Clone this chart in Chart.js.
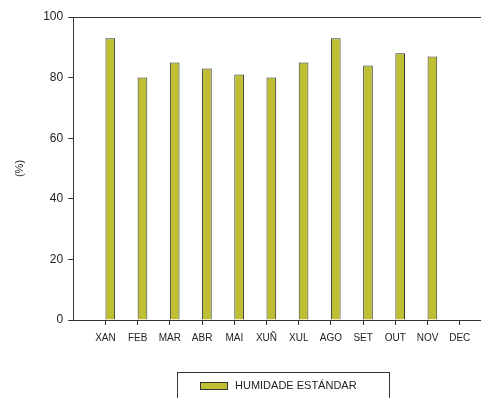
<!DOCTYPE html>
<html>
<head>
<meta charset="utf-8">
<script src="https://cdn.jsdelivr.net/npm/chart.js@4/dist/chart.umd.min.js"></script>
<style>
    html, body { margin: 0; padding: 0; background: #fff; overflow: hidden; }
    #wrap { position: relative; width: 500px; height: 398px; }
    #legend {
        position: absolute; left: 177px; top: 372px; width: 213px; height: 40px;
        border: 1px solid #333; box-sizing: border-box;
        font: 11px "Liberation Sans", Arial, sans-serif; color: #222;
    }
    #legend .sw {
        position: absolute; left: 22px; top: 9px; width: 28px; height: 8px;
        background: #bfbf33; border: 1px solid #333; box-sizing: border-box;
    }
    #legend .tx { position: absolute; left: 57px; top: 6px; }
</style>
</head>
<body>
<div id="wrap">
    <canvas id="humidityChart" width="500" height="398"></canvas>
    <div id="legend"><span class="sw"></span><span class="tx">HUMIDADE ESTÁNDAR</span></div>
</div>
<script>
const months = ['XAN', 'FEB', 'MAR', 'ABR', 'MAI', 'XUÑ', 'XUL', 'AGO', 'SET', 'OUT', 'NOV', 'DEC'];
const humidity = [93, 80, 85, 83, 81, 80, 85, 93, 84, 88, 87, null];
const yTicks = [0, 20, 40, 60, 80, 100];
const seriesName = 'HUMIDADE ESTÁNDAR';

document.addEventListener('DOMContentLoaded', function () {
    const axisColor = '#333';
    const family = '"Liberation Sans", Arial, sans-serif';

    // ticks sit on category boundaries in the original, so pad with empty slots
    const labels = [''].concat(months, ['']);
    const values = [null].concat(humidity, [null]);

    const frameTop = {
        id: 'frameTop',
        afterDraw(chart) {
            const { ctx, chartArea } = chart;
            ctx.save();
            ctx.strokeStyle = axisColor;
            ctx.lineWidth = 1;
            ctx.beginPath();
            ctx.moveTo(chartArea.left, Math.round(chartArea.top) + 0.5);
            ctx.lineTo(chartArea.right, Math.round(chartArea.top) + 0.5);
            ctx.stroke();
            ctx.restore();
        }
    };

    new Chart(document.getElementById('humidityChart'), {
        type: 'bar',
        data: {
            labels: labels,
            datasets: [{
                label: 'spacer',
                data: labels.map(() => null)
            }, {
                label: seriesName,
                data: values,
                backgroundColor: '#bfbf33',
                borderColor: '#333',
                borderWidth: 1
            }]
        },
        options: {
            responsive: false,
            animation: false,
            categoryPercentage: 0.6,
            barPercentage: 1,
            layout: { padding: { top: 17, right: 8, bottom: 47, left: 8 } },
            plugins: { legend: { display: false }, tooltip: { enabled: false } },
            scales: {
                x: {
                    offset: false,
                    grid: {
                        offset: false,
                        drawOnChartArea: false,
                        drawTicks: true,
                        tickLength: 5,
                        color: ctx => labels[ctx.index] ? axisColor : 'rgba(0,0,0,0)'
                    },
                    border: { color: axisColor },
                    ticks: { color: '#222', font: { family: family, size: 10 }, padding: 7, maxRotation: 0, autoSkip: false }
                },
                y: {
                    min: 0,
                    max: 100,
                    afterBuildTicks: axis => { axis.ticks = yTicks.map(v => ({ value: v })); },
                    grid: { drawOnChartArea: false, drawTicks: true, tickLength: 5, color: axisColor },
                    border: { color: axisColor },
                    ticks: { color: '#222', font: { family: family, size: 12 }, padding: 5 },
                    title: {
                        display: true,
                        text: '(%)',
                        color: '#222',
                        font: { family: family, size: 11 },
                        padding: { top: 5, bottom: 12 }
                    }
                }
            }
        },
        plugins: [frameTop]
    });
});
</script>
</body>
</html>
